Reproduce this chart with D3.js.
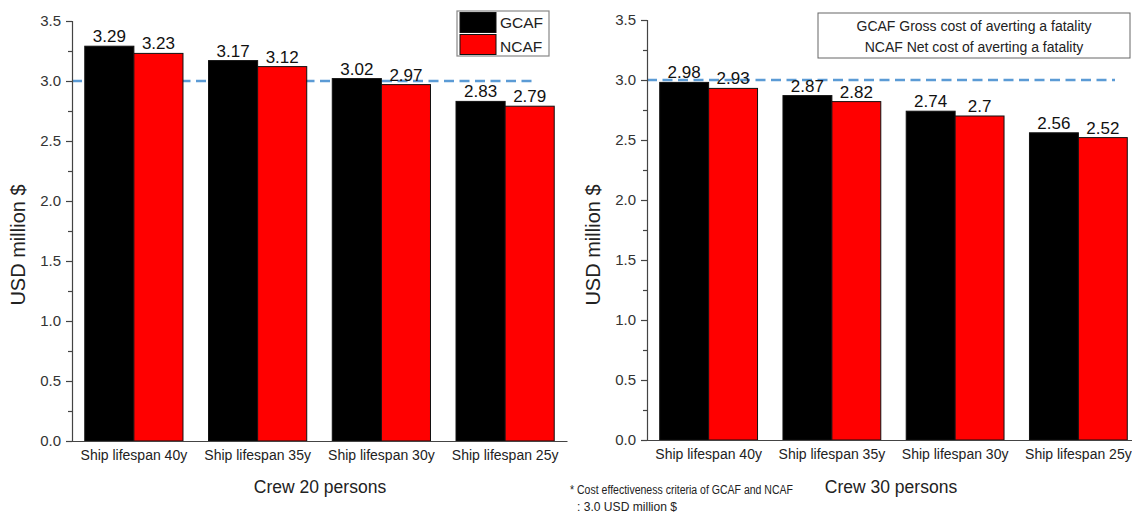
<!DOCTYPE html>
<html><head><meta charset="utf-8">
<script src="https://cdn.jsdelivr.net/npm/d3@7"></script>
<style>body{margin:0;background:#fff}svg{display:block}text{font-family:"Liberation Sans",Arial,sans-serif}</style>
</head><body>
<svg id="c" width="1132" height="514"></svg>
<script>
const categories = ["Ship lifespan 40y","Ship lifespan 35y","Ship lifespan 30y","Ship lifespan 25y"];
const seriesNames = ["GCAF","NCAF"];
const crew20GCAF = [3.29,3.17,3.02,2.83];
const crew20NCAF = [3.23,3.12,2.97,2.79];
const crew30GCAF = [2.98,2.87,2.74,2.56];
const crew30NCAF = [2.93,2.82,2.7,2.52];
const valueLabels20 = [["3.29","3.23"],["3.17","3.12"],["3.02","2.97"],["2.83","2.79"]];
const valueLabels30 = [["2.98","2.93"],["2.87","2.82"],["2.74","2.7"],["2.56","2.52"]];
const yTicks = [0,0.5,1.0,1.5,2.0,2.5,3.0,3.5];
const criterion = 3.0;
const xTitles = ["Crew 20 persons","Crew 30 persons"];
const yTitle = "USD million $";
const legendDesc = ["GCAF Gross cost of averting a fatality","NCAF Net cost of averting a fatality"];
const footnote = ["* Cost effectiveness criteria of GCAF and NCAF",": 3.0 USD million $"];
const colors = {GCAF:"#000000", NCAF:"#ff0000"};

const svg = d3.select("#c");

function panel(cfg){
  const g = svg.append("g");
  const x0 = d3.scaleBand().domain(categories).range([cfg.x0, cfg.x1]).padding(0);
  const x1 = d3.scaleBand().domain(seriesNames).range([0, x0.bandwidth()]).paddingInner(0).paddingOuter(0.26);
  const y = d3.scaleLinear().domain([0,3.5]).range([cfg.yb, cfg.yt]);
  const data = categories.map((c,i)=>({cat:c, vals:[{s:"GCAF",v:cfg.g[i],l:cfg.labels[i][0]},{s:"NCAF",v:cfg.n[i],l:cfg.labels[i][1]}]}));

  // criterion line (behind bars)
  g.append("line").attr("x1",cfg.dashX0).attr("x2",cfg.dashX1)
    .attr("y1",y(criterion)).attr("y2",y(criterion))
    .attr("stroke","#5b9bd5").attr("stroke-width",2.5).attr("stroke-dasharray","10,5.5");

  const grp = g.selectAll("g.grp").data(data).join("g").attr("transform",d=>`translate(${x0(d.cat)},0)`);
  grp.selectAll("rect").data(d=>d.vals).join("rect")
    .attr("x",d=>x1(d.s)).attr("width",x1.bandwidth())
    .attr("y",d=>y(d.v)).attr("height",d=>y(0)-y(d.v))
    .attr("fill",d=>colors[d.s]).attr("stroke","#111").attr("stroke-width",1);
  grp.selectAll("text.val").data(d=>d.vals).join("text").attr("class","val")
    .attr("x",d=>x1(d.s)+x1.bandwidth()/2).attr("y",d=>y(d.v)-4)
    .attr("text-anchor","middle").attr("font-size",17).attr("fill","#111").text(d=>d.l);

  // y axis
  const ya = g.append("g").attr("transform",`translate(${cfg.x0},0)`)
    .call(d3.axisLeft(y).tickValues(yTicks).tickFormat(d3.format(".1f")).tickSize(6).tickPadding(5));
  ya.select(".domain").attr("stroke","#444").attr("stroke-width",1.2);
  ya.selectAll(".tick line").attr("stroke","#444").attr("stroke-width",1.2);
  ya.selectAll(".tick text").attr("font-size",15).attr("fill","#333").attr("font-family",'"Liberation Sans",Arial,sans-serif');
  const minor = g.append("g").attr("transform",`translate(${cfg.x0},0)`)
    .call(d3.axisLeft(y).tickValues(d3.range(0.25,3.5,0.5)).tickFormat("").tickSize(4));
  minor.select(".domain").remove();
  minor.selectAll(".tick line").attr("stroke","#444").attr("stroke-width",1.2);

  // x axis
  const xa = g.append("g").attr("transform",`translate(0,${cfg.yb})`)
    .call(d3.axisBottom(x0).tickSize(0).tickPadding(9));
  xa.select(".domain").attr("stroke","#444").attr("stroke-width",1.2);
  xa.selectAll(".tick text").attr("font-size",14).attr("fill","#222").attr("font-family",'"Liberation Sans",Arial,sans-serif');

  g.append("text").attr("x",cfg.xTitleX).attr("y",493).attr("text-anchor","middle")
    .attr("font-size",17.5).attr("fill","#222").text(cfg.xTitle);
  g.append("text").attr("transform",`translate(${cfg.yTitleX},245) rotate(-90)`).attr("text-anchor","middle")
    .attr("font-size",20).attr("fill","#222").text(yTitle);
  return g;
}

panel({x0:72, x1:567, yb:441, yt:21, g:crew20GCAF, n:crew20NCAF, labels:valueLabels20,
  dashX0:72, dashX1:537, xTitle:xTitles[0], xTitleX:320, yTitleX:25});
panel({x0:647, x1:1140, yb:440, yt:20, g:crew30GCAF, n:crew30NCAF, labels:valueLabels30,
  dashX0:647, dashX1:1115, xTitle:xTitles[1], xTitleX:891, yTitleX:600});

// left legend
const lg = svg.append("g");
lg.append("rect").attr("x",457).attr("y",11).attr("width",92).attr("height",45)
  .attr("fill","#fff").attr("stroke","#888").attr("stroke-width",1.2);
seriesNames.forEach((s,i)=>{
  lg.append("rect").attr("x",460).attr("y",12.5+i*22).attr("width",36).attr("height",20)
    .attr("fill",colors[s]).attr("stroke","#111").attr("stroke-width",1);
  lg.append("text").attr("x",500).attr("y",28+i*23.5).attr("font-size",15.5).attr("fill","#222").text(s);
});

// right legend
const rg = svg.append("g");
rg.append("rect").attr("x",818).attr("y",13).attr("width",312).attr("height",45)
  .attr("fill","#fff").attr("stroke","#666").attr("stroke-width",1);
legendDesc.forEach((t,i)=>{
  rg.append("text").attr("x",974).attr("y",31+i*20.5).attr("text-anchor","middle")
    .attr("font-size",14).attr("fill","#222").text(t);
});

// footnote
svg.append("text").attr("x",570).attr("y",494).attr("font-size",12).attr("fill","#222")
  .attr("textLength",223).attr("lengthAdjust","spacingAndGlyphs").text(footnote[0]);
svg.append("text").attr("x",577).attr("y",511).attr("font-size",12).attr("fill","#222")
  .attr("textLength",100).attr("lengthAdjust","spacingAndGlyphs").text(footnote[1]);
</script>
</body></html>
